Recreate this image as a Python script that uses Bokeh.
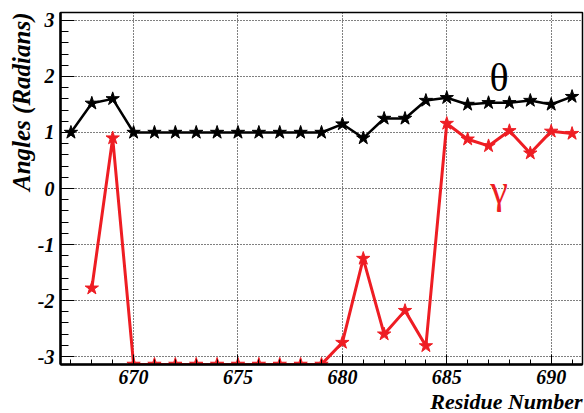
from bokeh.plotting import figure
from bokeh.models import Range1d, FixedTicker, Label, Title, CustomJSTickFormatter
from bokeh.embed import file_html
from bokeh.resources import INLINE

residues = list(range(667, 692))
theta = [1.00, 1.52, 1.60, 1.00, 1.00, 1.00, 1.00, 1.00, 1.00, 1.00, 1.00, 1.00, 1.00,
         1.15, 0.90, 1.25, 1.25, 1.57, 1.62, 1.50, 1.53, 1.53, 1.57, 1.50, 1.64]
gamma_res = list(range(668, 692))
gamma = [-1.78, 0.90, -3.14, -3.14, -3.14, -3.14, -3.14, -3.14, -3.14, -3.14, -3.14, -3.14,
         -2.75, -1.25, -2.60, -2.18, -2.81, 1.16, 0.88, 0.76, 1.03, 0.63, 1.02, 0.98]
x_major = [670, 675, 680, 685, 690]
x_minor = [v for v in range(667, 692) if v not in x_major]
y_major = [-3, -2, -1, 0, 1, 2, 3]
y_minor = [round(-3.2 + 0.2 * i, 1) for i in range(33)]

FONT = "Liberation Serif"
RED = "#ee1d23"

p = figure(width=584, height=413, output_backend="svg", toolbar_location=None,
           x_range=Range1d(666.5, 691.5), y_range=Range1d(-3.1416, 3.1416),
           min_border_left=60, min_border_top=12, min_border_right=2, min_border_bottom=47)
p.outline_line_color = "black"
p.outline_line_width = 1.5

p.xaxis.ticker = FixedTicker(ticks=x_major, minor_ticks=x_minor)
p.yaxis.ticker = FixedTicker(ticks=y_major, minor_ticks=[v for v in y_minor if v not in y_major])
p.xaxis.formatter = CustomJSTickFormatter(code="return tick.toFixed(0);")
p.yaxis.formatter = CustomJSTickFormatter(code="return tick.toFixed(0);")

p.xaxis.major_label_text_font = FONT
p.yaxis.major_label_text_font = FONT
p.xaxis.major_label_text_font_style = "bold italic"
p.yaxis.major_label_text_font_style = "bold italic"
p.xaxis.major_label_text_font_size = "20px"
p.yaxis.major_label_text_font_size = "20px"
p.xaxis.major_label_text_color = "black"
p.yaxis.major_label_text_color = "black"
p.xaxis.axis_line_width = 2.5
p.yaxis.axis_line_width = 2.5
p.xaxis.axis_line_color = "black"
p.yaxis.axis_line_color = "black"
p.xaxis.major_tick_line_color = "black"
p.yaxis.major_tick_line_color = "black"
p.xaxis.minor_tick_line_color = "black"
p.yaxis.minor_tick_line_color = "black"
p.xaxis.major_tick_out = 0
p.yaxis.major_tick_out = 0
p.xaxis.minor_tick_out = 0
p.yaxis.minor_tick_out = 0
p.xaxis.major_tick_in = 10
p.xaxis.minor_tick_in = 5
p.yaxis.major_tick_in = 14
p.yaxis.minor_tick_in = 8
p.xaxis.major_label_standoff = 5
p.yaxis.major_label_standoff = 6

p.xgrid.grid_line_color = "black"
p.ygrid.grid_line_color = "black"
p.xgrid.grid_line_dash = "1 2"
p.ygrid.grid_line_dash = "1 2"
p.xgrid.grid_line_alpha = 1.0
p.ygrid.grid_line_alpha = 1.0

p.line(residues, theta, line_color="black", line_width=2.5)
p.scatter(residues, theta, marker="star", size=14, fill_color="black", line_color="black")
p.line(gamma_res, gamma, line_color=RED, line_width=3)
p.scatter(gamma_res, gamma, marker="star", size=14, fill_color=RED, line_color=RED)

p.add_layout(Label(x=687.5, y=1.98, text="θ", text_align="center", text_baseline="alphabetic",
                   text_font=FONT, text_font_size="40px", text_color="black"))
p.add_layout(Label(x=687.5, y=-0.02, text="γ", text_align="center", text_baseline="alphabetic",
                   text_font=FONT, text_font_size="40px", text_color=RED))

xt = Title(text="Residue Number", align="right", text_font=FONT, text_font_style="bold italic",
           text_font_size="22px", text_color="black", offset=0, standoff=0)
p.add_layout(xt, "below")
yt = Title(text="Angles (Radians)", align="right", text_font=FONT, text_font_style="bold italic",
           text_font_size="25px", text_color="black", offset=0, standoff=0)
p.add_layout(yt, "left")

open("out.html", "w").write(file_html(p, INLINE))
